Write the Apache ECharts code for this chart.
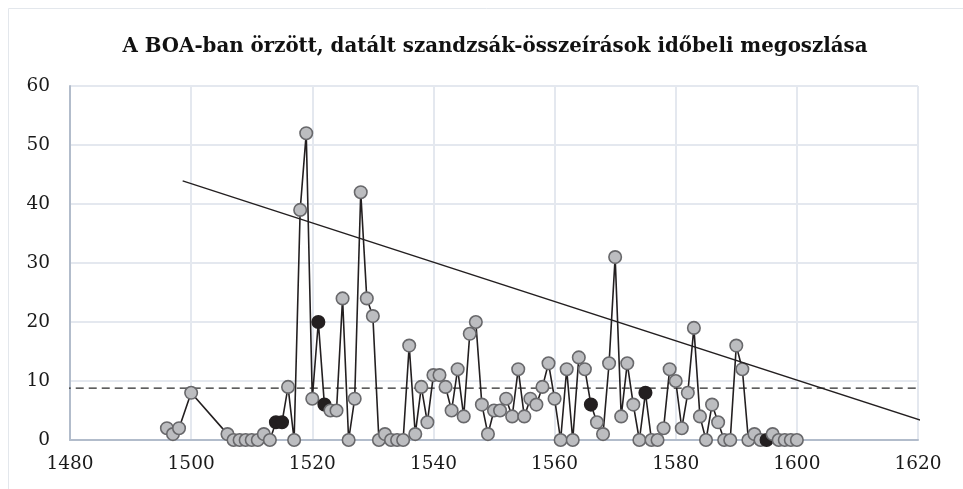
<!DOCTYPE html>
<html>
<head>
<meta charset="utf-8">
<script src="https://cdn.jsdelivr.net/npm/echarts@6/dist/echarts.min.js"></script>
<style>
  html, body { margin: 0; padding: 0; background: #fff; }
  #chart { width: 963px; height: 489px; }
</style>
</head>
<body>
<div id="chart"></div>
<script>
const TITLE = 'A BOA-ban örzött, datált szandzsák-összeírások időbeli megoszlása';

// years with a record
const years = [1496, 1497, 1498, 1500,
    1506, 1507, 1508, 1509, 1510, 1511, 1512, 1513, 1514, 1515, 1516, 1517, 1518, 1519, 1520,
    1521, 1522, 1523, 1524, 1525, 1526, 1527, 1528, 1529, 1530, 1531, 1532, 1533, 1534, 1535,
    1536, 1537, 1538, 1539, 1540, 1541, 1542, 1543, 1544, 1545, 1546, 1547, 1548, 1549, 1550,
    1551, 1552, 1553, 1554, 1555, 1556, 1557, 1558, 1559, 1560, 1561, 1562, 1563, 1564, 1565,
    1566, 1567, 1568, 1569, 1570, 1571, 1572, 1573, 1574, 1575, 1576, 1577, 1578, 1579, 1580,
    1581, 1582, 1583, 1584, 1585, 1586, 1587, 1588, 1589, 1590, 1591, 1592, 1593, 1594, 1595,
    1596, 1597, 1598, 1599, 1600];
const counts = [2, 1, 2, 8,
    1, 0, 0, 0, 0, 0, 1, 0, 3, 3, 9, 0, 39, 52, 7,
    20, 6, 5, 5, 24, 0, 7, 42, 24, 21, 0, 1, 0, 0, 0,
    16, 1, 9, 3, 11, 11, 9, 5, 12, 4, 18, 20, 6, 1, 5,
    5, 7, 4, 12, 4, 7, 6, 9, 13, 7, 0, 12, 0, 14, 12,
    6, 3, 1, 13, 31, 4, 13, 6, 0, 8, 0, 0, 2, 12, 10,
    2, 8, 19, 4, 0, 6, 3, 0, 0, 16, 12, 0, 1, 0, 0,
    1, 0, 0, 0, 0];
// years drawn with a black marker
const darkYears = [1514, 1515, 1521, 1522, 1566, 1575, 1595];

// linear trend (end points) and average line
const trendYears = [1498.6, 1621.5];
const trendValues = [43.9, 3.0];
const avgYears = [1478.8, 1620.4];
const avgValue = 8.8;

const xTicks = [1480, 1500, 1520, 1540, 1560, 1580, 1600, 1620];

window.onload = function() {
    drawChart();
}

function drawChart() {
    var dom = document.getElementById('chart');
    var myChart = echarts.init(dom);

    let points = years.map((y, i) => {
        let p = { value: [y, counts[i]] };
        if (darkYears.indexOf(y) >= 0) {
            p.itemStyle = { color: '#231f20', borderColor: '#231f20' };
        }
        return p;
    });

    let option = {
        animation: false,
        textStyle: { fontFamily: 'DejaVu Serif' },
        graphic: [{
            type: 'rect',
            shape: { x: 8.5, y: 8.5, width: 980, height: 500 },
            style: { fill: 'none', stroke: '#e3e7ec', lineWidth: 1 },
            silent: true
        }],
        title: {
            text: TITLE,
            left: 490,
            textAlign: 'center',
            top: 32,
            textStyle: {
                fontFamily: 'DejaVu Serif',
                fontWeight: 'bold',
                fontSize: 19.8,
                color: '#111'
            }
        },
        grid: {
            left: 70,
            right: 45,
            top: 86,
            bottom: 49
        },
        xAxis: {
            type: 'value',
            min: xTicks[0],
            max: xTicks[xTicks.length - 1],
            interval: 20,
            axisLine: { lineStyle: { color: '#b2bccb', width: 2 } },
            axisTick: { show: false },
            axisLabel: { color: '#1a1a1a', fontSize: 18.5, margin: 15, formatter: v => String(v) },
            splitLine: { lineStyle: { color: '#e4e8ef', width: 2 } }
        },
        yAxis: {
            type: 'value',
            min: 0,
            max: 60,
            interval: 10,
            axisLine: { show: true, lineStyle: { color: '#b2bccb', width: 2 } },
            axisTick: { show: false },
            axisLabel: { color: '#1a1a1a', fontSize: 18.5, margin: 20 },
            splitLine: { lineStyle: { color: '#e4e8ef', width: 2 } }
        },
        series: [
            {
                name: 'átlag',
                type: 'line',
                data: avgYears.map(y => [y, avgValue]),
                symbol: 'none',
                clip: false,
                z: 1,
                lineStyle: { color: '#2a2a2a', width: 1.3, type: [8, 5] }
            },
            {
                name: 'összeírások',
                type: 'line',
                data: points,
                symbol: 'circle',
                symbolSize: 12.5,
                showAllSymbol: true,
                z: 3,
                lineStyle: { color: '#231f20', width: 1.6 },
                itemStyle: { color: '#bcbdc0', borderColor: '#68686b', borderWidth: 1.6 }
            },
            {
                name: 'trend',
                type: 'line',
                data: trendYears.map((y, i) => [y, trendValues[i]]),
                symbol: 'none',
                clip: false,
                z: 4,
                lineStyle: { color: '#231f20', width: 1.3 }
            }
        ]
    };
    myChart.setOption(option, true);
}
</script>
</body>
</html>
